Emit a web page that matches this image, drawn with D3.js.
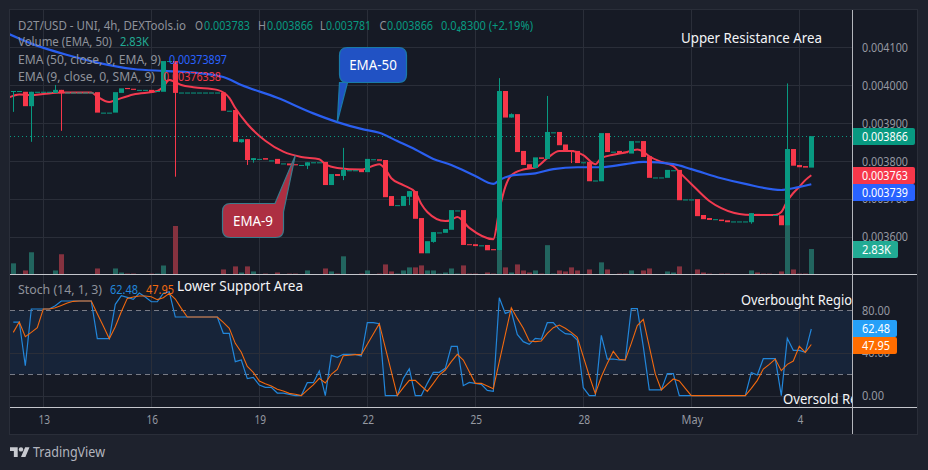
<!DOCTYPE html>
<html>
<head>
<meta charset="utf-8">
<script src="https://cdn.jsdelivr.net/npm/d3@7"></script>
<style>
  html, body { margin: 0; padding: 0; background: #1e222d; }
  svg { display: block; }
  text { font-family: "Noto Sans", sans-serif; }
  .domain { display: none; }
  .tick line { display: none; }
</style>
</head>
<body>
<div id="chart"></div>
<script>
// prices are in millionths of a dollar, volume in thousands
const opens = [
  3984,3985,3983,3945,3983,3983,3983,3980,3988,3981,
  3981,3981,3981,3981,3982,3928,3928,3928,3980,3993,
  3991,3988,3988,3988,3985,3983,4064,4064,3981,3981,
  3981,3981,3981,3981,3981,3981,3933,3935,3850,3858,
  3803,3806,3808,3802,3806,3794,3794,3792,3790,3788,
  3797,3797,3798,3737,3766,3761,3776,3776,3778,3771,
  3805,3805,3803,3708,3684,3682,3706,3721,3650,3557,
  3587,3612,3611,3619,3670,3671,3581,3581,3578,3579,
  3568,3565,3985,3915,3924,3827,3792,3782,3810,3806,
  3876,3877,3844,3829,3827,3797,3798,3749,3747,3874,
  3825,3827,3825,3820,3852,3853,3813,3757,3757,3756,
  3776,3777,3699,3699,3700,3658,3650,3647,3646,3644,
  3641,3641,3641,3639,3661,3660,3660,3658,3657,3631,
  3832,3790,3787,3783];
const closes = [
  3985,3985,3945,3983,3983,3983,3983,3988,3979,3981,
  3981,3981,3981,3981,3928,3928,3928,3982,3992,3990,
  3988,3988,3988,3981,3985,4064,4064,3980,3981,3981,
  3981,3981,3981,3981,3981,3933,3933,3851,3858,3803,
  3808,3806,3804,3802,3793,3794,3789,3789,3790,3797,
  3797,3797,3737,3766,3761,3777,3776,3776,3771,3806,
  3805,3801,3705,3682,3684,3708,3721,3648,3557,3589,
  3613,3612,3621,3671,3670,3579,3579,3576,3578,3565,
  3565,3985,3915,3924,3824,3790,3781,3810,3806,3877,
  3876,3842,3829,3827,3795,3797,3747,3749,3874,3824,
  3825,3821,3821,3853,3852,3811,3756,3757,3757,3777,
  3776,3697,3699,3699,3655,3647,3645,3647,3642,3639,
  3641,3641,3641,3663,3658,3657,3657,3658,3631,3832,
  3788,3784,3783,3866];

// only the bars that have a visible wick
const wickBars  = [0,3,7,8,27,38,39,40,49,55,66,70,81,83,89,93,123,129];
const wickHighs = [null,null,4001,null,null,null,null,null,null,3835,null,null,4019,3926,3972,null,null,4005];
const wickLows  = [3930,3851,null,3880,3759,3849,3790,3796,3779,3750,3684,3585,null,null,null,3795,3635,null];

const volumes = [
  1.24,.07,.45,2.47,.05,.05,.05,.45,2.25,.05,
  .05,.05,.05,.05,.67,.05,.05,.67,.22,.1,
  .1,.05,.05,.1,.1,1.0,.05,5.39,.05,.05,
  .05,.05,.05,.05,.05,.56,.05,.9,.22,.9,
  .34,.05,.1,.05,.22,.05,.1,.1,.05,.45,
  .05,.05,.67,.34,.1,2.02,.05,.05,.1,.45,
  .05,.1,1.12,.34,.1,.45,.79,.79,1.01,.45,
  .45,.1,.22,.67,.1,1.01,.1,.1,.05,.22,
  .1,2.7,.79,.22,1.12,.45,.22,.45,.1,3.26,
  .1,.45,.34,.79,.45,.05,.56,.05,1.35,.56,
  .05,.1,.1,.45,.05,.45,.67,.05,.05,.34,
  .22,.9,.05,.05,.56,.22,.1,.05,.1,.1,
  .05,.05,.05,.45,.22,.1,.1,.05,.34,5.5,
  .56,.1,.1,2.83];

const ema50Bars = [-1,3,9,14,20,25,29,35,38,44,50,54,58,61,64,67,70,73,77,80,81,83,87,90,94,98,102,105,110,113,118,122,128,129,133];
const ema50Vals = [4137,4110,4080,4060,4043,4038,4035,4022,4001,3967,3926,3903,3885,3875,3853,3831,3806,3790,3761,3740,3750,3762,3768,3779,3784,3784,3792,3798,3792,3779,3755,3740,3724,3726,3739];

const ema9Bars = [-1,1,3,5,8,13,14,16,17,20,24,25,26,28,30,34,36,37,39,42,45,48,51,52,54,58,61,62,63,65,67,68,69,72,73,74,76,80,81,82,83,85,87,89,91,93,95,97,98,100,102,104,105,106,108,110,111,113,116,118,122,127,128,129,130,131,132,133];
const ema9Vals = [3966,3976,3974,3977,3981,3981,3970,3956,3961,3976,3985,3996,4014,4001,3995,3988,3967,3940,3898,3854,3825,3811,3805,3792,3782,3778,3792,3779,3755,3737,3718,3687,3666,3642,3645,3653,3624,3594,3671,3732,3763,3778,3783,3808,3827,3827,3816,3792,3808,3817,3823,3831,3825,3813,3798,3787,3771,3740,3695,3676,3659,3658,3666,3695,3716,3732,3750,3763];

const stochK = [
  69,69,28,81.2,81.2,81.2,81.2,84.3,88.7,88.7,
  88.7,88.7,88.7,88.7,53.4,53.4,53.4,85.6,93.7,92.1,
  90.2,96.2,92.4,88,88,95.9,97.4,73.7,73.7,73.7,
  73.7,73.7,73.7,73.7,73.7,58.4,58.4,31.8,33.4,15.9,
  17.1,9.9,7.7,7.7,2.4,2.4,1.2,0,0,12.1,
  12.1,23.1,0,37.7,35.9,38.7,38.7,38.7,37.1,68.4,
  68.4,67.4,0,0,0,16.2,25.2,0,0,11.5,
  21.8,21.8,25.6,46.2,46.2,9.3,12.4,11.5,10.6,4.9,
  4,91.8,77.1,79.3,57.4,50.6,48.1,53.7,53.1,68.4,
  68.4,62.1,58.1,57.4,52.1,7.4,0,0,56.5,34.3,
  34.3,33.4,33.4,81.5,81.5,45.9,5.3,5.3,5.3,20.6,
  20.6,0,0,0,0,0,0,0,0,0,
  0,0,0,21.5,19.3,34.6,34.6,34.6,0,53.7,
  42.4,42.4,40.6,62.48];
const stochD = [
  59.3,69,55.2,59.3,63.7,81.2,81.2,82.4,84.6,86.8,
  88.4,88.7,88.7,88.7,76.8,65.2,53.4,64.6,78.7,91.2,
  92.4,93.4,93.4,92.7,90,91.8,95.9,90.6,81.8,73.7,
  73.7,73.7,73.7,73.7,73.7,68.7,63.1,49,40.6,27.4,
  21.8,13.7,11.2,9,5.9,4.3,2.1,1.2,0,5.2,
  10,16.2,11.8,20,24.6,37.4,37.8,38.4,38.4,48.1,
  57.7,67.4,45,22.4,0,7.4,14.3,14.3,9,4,
  11.5,19.3,24,31.8,38.7,33.4,22.4,11.5,11.5,9,
  6.5,31.8,57.1,82.4,72.4,63.1,51.2,50.6,51.2,58.4,
  63.7,66.2,63.1,59.3,54.6,36.5,18.4,1.8,17.7,30.2,
  41.5,34,33.4,49,65.6,71.5,45.9,20.3,5.3,10.6,
  15.6,13.7,6.8,0,0,0,0,0,0,0,
  0,0,0,6.8,14.3,24.9,29.3,34.3,23.4,29.3,
  32.4,46.2,40.6,47.95];

const priceTicks = [3600,3700,3800,3900,4000,4100];
const stochTicks = [0,40,80];
const dayBars = [5,23,41,59,77,95,113,131];
const dayLabels = ["13","16","19","22","25","28","May","4"];

const width = 928, height = 470;
const paneLeft = 10, paneRight = 852, outerRight = 917, paneTop = 10, paneBottom = 434;
const priceBottom = 274.5, stochBottom = 407.5;
const green = "#089981", red = "#f7374a";

const x = d3.scaleLinear().domain([0, 133]).range([13.3, 811.3]);
const y = d3.scaleLinear().domain([3600, 4100]).range([237, 47.4]);
const yVol = d3.scaleLinear().domain([0, 5.5]).range([priceBottom, 225]);
const yStoch = d3.scaleLinear().domain([0, 80]).range([395.6, 310.3]);

const svg = d3.select("#chart").append("svg")
  .attr("width", width).attr("height", height);

const defs = svg.append("defs");
defs.append("clipPath").attr("id", "priceClip").append("rect")
  .attr("x", paneLeft).attr("y", paneTop).attr("width", paneRight - paneLeft).attr("height", priceBottom - paneTop);
defs.append("clipPath").attr("id", "stochClip").append("rect")
  .attr("x", paneLeft).attr("y", priceBottom).attr("width", paneRight - paneLeft).attr("height", stochBottom - priceBottom);

// the source font is narrower than Noto Sans, so widths are forced
function fit(sel, w) {
  return sel.attr("textLength", w).attr("lengthAdjust", "spacingAndGlyphs");
}

// panel background
svg.append("rect").attr("x", paneLeft - 0.5).attr("y", paneTop - 0.5)
  .attr("width", outerRight - paneLeft + 1).attr("height", paneBottom - paneTop + 1)
  .attr("fill", "#161a25").attr("stroke", "#2a2e39");

// grid
const grid = svg.append("g").attr("stroke", "#2a2e39").attr("stroke-width", 1);
grid.selectAll(".v").data(dayBars).join("line").attr("class", "v")
  .attr("x1", d => Math.round(x(d)) + 0.5).attr("x2", d => Math.round(x(d)) + 0.5)
  .attr("y1", paneTop).attr("y2", stochBottom);
grid.selectAll(".hp").data(priceTicks).join("line").attr("class", "hp")
  .attr("x1", paneLeft).attr("x2", paneRight)
  .attr("y1", d => Math.round(y(d)) + 0.5).attr("y2", d => Math.round(y(d)) + 0.5);

const pricePane = svg.append("g").attr("clip-path", "url(#priceClip)");

// volume
pricePane.selectAll(".vol").data(volumes).join("rect").attr("class", "vol")
  .attr("x", (d, i) => Math.round(x(i)) - 2).attr("width", 5)
  .attr("y", d => yVol(d)).attr("height", d => priceBottom - yVol(d))
  .attr("fill", (d, i) => closes[i] >= opens[i] ? "#22655f" : "#85323f");

// EMAs go under the candles
const emaLine = d3.line().x(d => x(d[0])).y(d => y(d[1])).curve(d3.curveMonotoneX);
pricePane.append("path").attr("d", emaLine(d3.zip(ema9Bars, ema9Vals)))
  .attr("fill", "none").attr("stroke", "#f23a50").attr("stroke-width", 2);
pricePane.append("path").attr("d", emaLine(d3.zip(ema50Bars, ema50Vals)))
  .attr("fill", "none").attr("stroke", "#2a5ff0").attr("stroke-width", 2.2);

// last price
pricePane.append("line").attr("x1", paneLeft).attr("x2", paneRight)
  .attr("y1", Math.round(y(3866)) + 0.5).attr("y2", Math.round(y(3866)) + 0.5)
  .attr("stroke", green).attr("stroke-dasharray", "1 3");

// candles
const candleColor = i => closes[i] >= opens[i] ? green : red;
const wickIdx = wickBars.map((b, k) => k);
pricePane.selectAll(".wick").data(wickIdx).join("line").attr("class", "wick")
  .attr("x1", k => Math.round(x(wickBars[k])) + 0.5).attr("x2", k => Math.round(x(wickBars[k])) + 0.5)
  .attr("y1", k => y(wickHighs[k] === null ? Math.max(opens[wickBars[k]], closes[wickBars[k]]) : wickHighs[k]))
  .attr("y2", k => y(wickLows[k] === null ? Math.min(opens[wickBars[k]], closes[wickBars[k]]) : wickLows[k]))
  .attr("stroke", k => candleColor(wickBars[k]));
pricePane.selectAll(".body").data(opens).join("rect").attr("class", "body")
  .attr("x", (d, i) => Math.round(x(i)) - 2).attr("width", 5)
  .attr("y", (d, i) => y(Math.max(d, closes[i])))
  .attr("height", (d, i) => Math.max(1, Math.abs(y(d) - y(closes[i]))))
  .attr("fill", (d, i) => candleColor(i));

// stochastic pane
const stochPane = svg.append("g").attr("clip-path", "url(#stochClip)");
stochPane.append("rect").attr("x", paneLeft).attr("width", paneRight - paneLeft)
  .attr("y", yStoch(80)).attr("height", yStoch(20) - yStoch(80))
  .attr("fill", "#172439");
stochPane.selectAll(".hs").data(stochTicks.filter(d => d < 80)).join("line").attr("class", "hs")
  .attr("x1", paneLeft).attr("x2", paneRight)
  .attr("y1", d => Math.round(yStoch(d)) + 0.5).attr("y2", d => Math.round(yStoch(d)) + 0.5)
  .attr("stroke", "#2a2e39");
stochPane.selectAll(".vs").data(dayBars).join("line").attr("class", "vs")
  .attr("x1", d => Math.round(x(d)) + 0.5).attr("x2", d => Math.round(x(d)) + 0.5)
  .attr("y1", priceBottom).attr("y2", stochBottom).attr("stroke", "#2a2e39");
stochPane.selectAll(".band").data([80, 20]).join("line").attr("class", "band")
  .attr("x1", paneLeft).attr("x2", paneRight)
  .attr("y1", d => Math.round(yStoch(d)) + 0.5).attr("y2", d => Math.round(yStoch(d)) + 0.5)
  .attr("stroke", "#787b86").attr("stroke-dasharray", "5 4");

const stochLine = d3.line().x((d, i) => x(i)).y(d => yStoch(d));
stochPane.append("path").attr("d", stochLine(stochK))
  .attr("fill", "none").attr("stroke", "#2286da").attr("stroke-width", 1.2);
stochPane.append("path").attr("d", stochLine(stochD))
  .attr("fill", "none").attr("stroke", "#f2690f").attr("stroke-width", 1.1);

// pane separators and axis border
const border = svg.append("g").attr("stroke", "#c4c6cc");
border.append("line").attr("x1", paneLeft).attr("x2", outerRight).attr("y1", priceBottom).attr("y2", priceBottom);
border.append("line").attr("x1", paneLeft).attr("x2", outerRight).attr("y1", stochBottom).attr("y2", stochBottom);
border.append("line").attr("x1", paneRight + 0.5).attr("x2", paneRight + 0.5).attr("y1", paneTop).attr("y2", paneBottom).attr("stroke", "#b4b6bc");

// axes
const axisColor = "#9598a1";
const priceAxis = svg.append("g").attr("transform", `translate(${paneRight},0)`)
  .call(d3.axisRight(y).tickValues(priceTicks).tickFormat(d => (d / 1e6).toFixed(6)));
const stochAxis = svg.append("g").attr("transform", `translate(${paneRight},0)`)
  .call(d3.axisRight(yStoch).tickValues(stochTicks).tickFormat(d => d.toFixed(2)));
const dayAxis = svg.append("g").attr("transform", `translate(0.5,${stochBottom})`)
  .call(d3.axisBottom(x).tickValues(dayBars).tickFormat((d, i) => dayLabels[i]));
[priceAxis, stochAxis].forEach(a => a.selectAll("text")
  .attr("x", 10).attr("font-size", 12.2).attr("fill", axisColor).style("font-family", '"Noto Sans", sans-serif'));
fit(priceAxis.selectAll("text"), 46);
stochAxis.selectAll("text").attr("textLength", d => d === 0 ? 22 : 28).attr("lengthAdjust", "spacingAndGlyphs");
dayAxis.selectAll("text").attr("y", 8).attr("font-size", 12.5).attr("fill", axisColor)
  .style("font-family", '"Noto Sans", sans-serif')
  .attr("textLength", (d, i) => dayLabels[i].length === 3 ? 21.7 : dayLabels[i].length * 5.8)
  .attr("lengthAdjust", "spacingAndGlyphs");

// value tags on the right
function tag(yTop, h, w, fill, label, textW) {
  svg.append("path")
    .attr("d", `M${paneRight + 1} ${yTop}h${w - 2}a2 2 0 0 1 2 2v${h - 4}a2 2 0 0 1 -2 2h-${w - 2}z`)
    .attr("fill", fill);
  fit(svg.append("text").attr("x", paneRight + 10).attr("y", yTop + h / 2 + 4.3)
    .attr("font-size", 12.5).attr("fill", "#fff").text(label), textW);
}
tag(128, 17, 62, green, "0.003866", 46);
tag(167, 17, 62, red, "0.003763", 46);
tag(184, 17, 62, "#2962ff", "0.003739", 46);
tag(241, 17, 45, "#22ab94", "2.83K", 29);
tag(320, 17, 44, "#26a0f8", "62.48", 28);
tag(337, 17, 44, "#ff6d00", "47.95", 28);

// legend, drawn over the series
const legendGrey = "#8f929b";
function legendRow(yPos, parts) {
  parts.forEach(p => fit(svg.append("text").attr("x", p[0]).attr("y", yPos)
    .attr("font-size", 12.6).attr("fill", p[2]).text(p[1]), p[3]));
}
legendRow(29.5, [
  [18, "D2T/USD - UNI, 4h, DEXTools.io", legendGrey, 168],
  [195, "O", legendGrey, 8], [204, "0.003783", green, 46],
  [258, "H", legendGrey, 8], [267, "0.003866", green, 46],
  [320, "L", legendGrey, 5.5], [326, "0.003781", green, 45],
  [379.5, "C", legendGrey, 7], [387, "0.003866", green, 46],
  [441, "0.0\u20848300 (+2.19%)", green, 92]
]);
legendRow(46, [[18, "Volume (EMA, 50)", legendGrey, 94], [120, "2.83K", "#22ab94", 29]]);
legendRow(63.5, [[18, "EMA (50, close, 0, EMA, 9)", legendGrey, 143], [169, "0.00373897", "#2962ff", 58]]);
legendRow(80.5, [[18, "EMA (9, close, 0, SMA, 9)", legendGrey, 137], [163, "0.00376338", "#f23645", 58]]);
legendRow(294, [[18, "Stoch (14, 1, 3)", legendGrey, 84], [110, "62.48", "#2286da", 28], [146, "47.95", "#f2690f", 28]]);

// hand drawn callouts
function calloutLabel(xa, xb, ya, yb, label, w) {
  fit(svg.append("text").attr("x", (xa + xb - w) / 2).attr("y", (ya + yb) / 2 + 5)
    .attr("font-size", 14).attr("fill", "#fff").text(label), w);
}
function calloutBelow(xa, xb, ya, yb, tipBar, tipPrice, baseA, baseB, fill, stroke, label, w) {
  const r = 8, tx = x(tipBar), ty = y(tipPrice);
  const d = `M${xa + r} ${ya}H${xb - r}Q${xb} ${ya} ${xb} ${ya + r}V${yb - r}Q${xb} ${yb} ${xb - r} ${yb}H${baseB}L${tx} ${ty}L${baseA} ${yb}H${xa + r}Q${xa} ${yb} ${xa} ${yb - r}V${ya + r}Q${xa} ${ya} ${xa + r} ${ya}Z`;
  svg.append("path").attr("d", d).attr("fill", fill).attr("stroke", stroke).attr("stroke-width", 1.2);
  calloutLabel(xa, xb, ya, yb, label, w);
}
function calloutAbove(xa, xb, ya, yb, tipBar, tipPrice, baseA, baseYB, fill, stroke, label, w) {
  const r = 8, tx = x(tipBar), ty = y(tipPrice);
  const d = `M${xa + r} ${ya}H${baseA}L${tx} ${ty}L${xb} ${baseYB}V${yb - r}Q${xb} ${yb} ${xb - r} ${yb}H${xa + r}Q${xa} ${yb} ${xa} ${yb - r}V${ya + r}Q${xa} ${ya} ${xa + r} ${ya}Z`;
  svg.append("path").attr("d", d).attr("fill", fill).attr("stroke", stroke).attr("stroke-width", 1.2);
  calloutLabel(xa, xb, ya, yb, label, w);
}
calloutBelow(339.5, 406.5, 47.5, 82.5, 54, 3903, 339.5, 347.5, "#2152c4", "#1a7aa8", "EMA-50", 47.7);
calloutAbove(222.5, 283.5, 203.5, 237.5, 47, 3815, 275, 212, "#ad2f42", "#3b7b8c", "EMA-9", 40);

// free text notes, cut at the axis like the source
const notes = svg.append("g").attr("font-size", 13.5).attr("fill", "#f4f5f7");
fit(notes.append("text").attr("x", 681).attr("y", 43).text("Upper Resistance Area"), 141);
fit(notes.append("text").attr("x", 177).attr("y", 291).text("Lower Support Area"), 126);
const clipped = svg.append("g").attr("clip-path", "url(#stochClip)").attr("font-size", 13.5).attr("fill", "#f4f5f7");
fit(clipped.append("text").attr("x", 741).attr("y", 305).text("Overbought Region"), 119);
fit(clipped.append("text").attr("x", 783).attr("y", 404).text("Oversold Region"), 102);

// logo
const logo = svg.append("g").attr("transform", "translate(10,445) scale(0.55)").attr("fill", "#c8cad0");
logo.append("path").attr("d", "M14 22H7V11H0V4h14v18zM28 22h-8l7.5-18h8L28 22z");
logo.append("circle").attr("cx", 20).attr("cy", 8).attr("r", 4);
fit(svg.append("text").attr("x", 33).attr("y", 457).attr("font-size", 13.5).attr("fill", "#b2b5be").text("TradingView"), 72);
</script>
</body>
</html>
